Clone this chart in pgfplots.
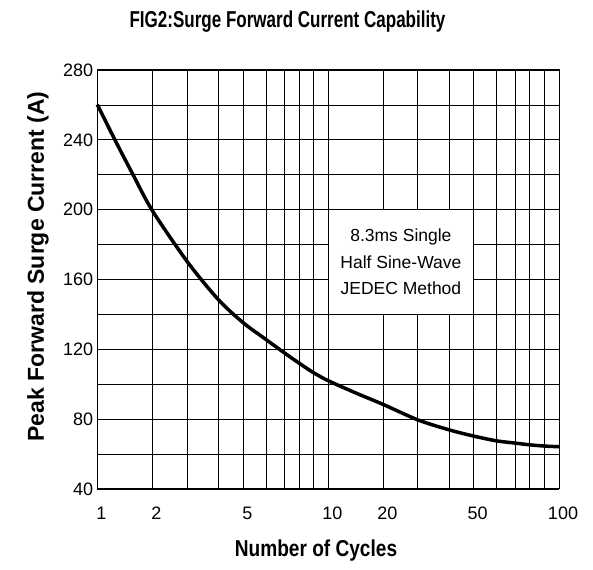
\documentclass[border=0pt]{standalone}
\usepackage{fontspec}
\setmainfont{Liberation Sans}
\newfontfamily\condT[FakeStretch=0.74]{Liberation Sans}
\newfontfamily\condX[FakeStretch=0.83]{Liberation Sans}
\usepackage{pgfplots}
\pgfplotsset{compat=1.18}
\begin{document}
\begin{tikzpicture}[x=1pt,y=1pt]
\useasboundingbox (0,0) rectangle (593,569);
\begin{axis}[
  at={(97.3pt,80pt)}, anchor=south west,
  scale only axis, width=461.7pt, height=419pt,
  xmin=1, xmax=100, ymin=40, ymax=280,
  x coord trafo/.code={\pgfmathparse{#1<2 ? 55*(#1-1) : (#1<3 ? 55+35*(#1-2) : (#1<4 ? 90+31*(#1-3) : (#1<5 ? 121+25*(#1-4) : (#1<6 ? 146+23*(#1-5) : (#1<7 ? 169+18*(#1-6) : (#1<8 ? 187+15*(#1-7) : (#1<9 ? 202+14*(#1-8) : (#1<10 ? 216+15*(#1-9) : (#1<20 ? 231+5.5*(#1-10) : (#1<30 ? 286+3.45*(#1-20) : (#1<40 ? 320.5+3.12*(#1-30) : (#1<50 ? 351.7+2.47*(#1-40) : (#1<60 ? 376.4+2.26*(#1-50) : (#1<70 ? 399+1.87*(#1-60) : (#1<80 ? 417.7+1.47*(#1-70) : (#1<90 ? 432.4+1.46*(#1-80) : 447+1.47*(#1-90))))))))))))))))))}},
  xtick={1,2,3,4,5,6,7,8,9,10,20,30,40,50,60,70,80,90,100},
  xticklabels={1,2,{},{},5,{},{},{},{},10,20,{},{},50,{},{},{},{},100},
  ytick={40,60,80,100,120,140,160,180,200,220,240,260,280},
  yticklabels={40,{},80,{},120,{},160,{},200,{},240,{},280},
  grid=major,
  major grid style={black, line width=0.8pt},
  axis line style={black, line width=1pt},
  major tick length=0pt,
  /pgf/number format/assume math mode=true,
  tick label style={font=\fontsize{18}{20}\selectfont},
  yticklabel style={anchor=east, inner sep=4pt},
  xticklabel style={anchor=center, yshift=-24pt, xshift=4pt},
  title={FIG2:Surge Forward Current Capability},
  title style={at={(axis description cs:0.412,1.100)}, anchor=center, font=\condT\bfseries\fontsize{23}{26}\selectfont},
  xlabel={Number of Cycles},
  xlabel style={at={(axis description cs:0.4737,-0.148)}, anchor=center, font=\condX\bfseries\fontsize{23}{26}\selectfont},
  ylabel={Peak Forward Surge Current (A)},
  ylabel style={at={(axis description cs:-0.1284,0.531)}, anchor=center, font=\bfseries\fontsize{23}{26}\selectfont},
  clip=false,
]
\addplot[black, line width=3.5pt, smooth] coordinates {
(1,260.2)(1.32,240)(1.65,220)(2,199.5)(3,170.2)(4,148.5)(5,135.2)(6,125.5)(7,118)(8,112)(9,106.7)(10,102)(15,95)(20,88.4)(30,79.6)(40,73.9)(50,70.3)(60,67.6)(70,66.3)(80,65.3)(90,64.6)(100,64.2)};
\node[fill=white, minimum width=144pt, minimum height=104pt, align=center, inner sep=0pt, font=\fontsize{17.5}{26.5}\selectfont] at (rel axis cs:0.6576,0.5418) {8.3ms Single\\Half Sine-Wave\\JEDEC Method};
\end{axis}
\end{tikzpicture}
\end{document}
